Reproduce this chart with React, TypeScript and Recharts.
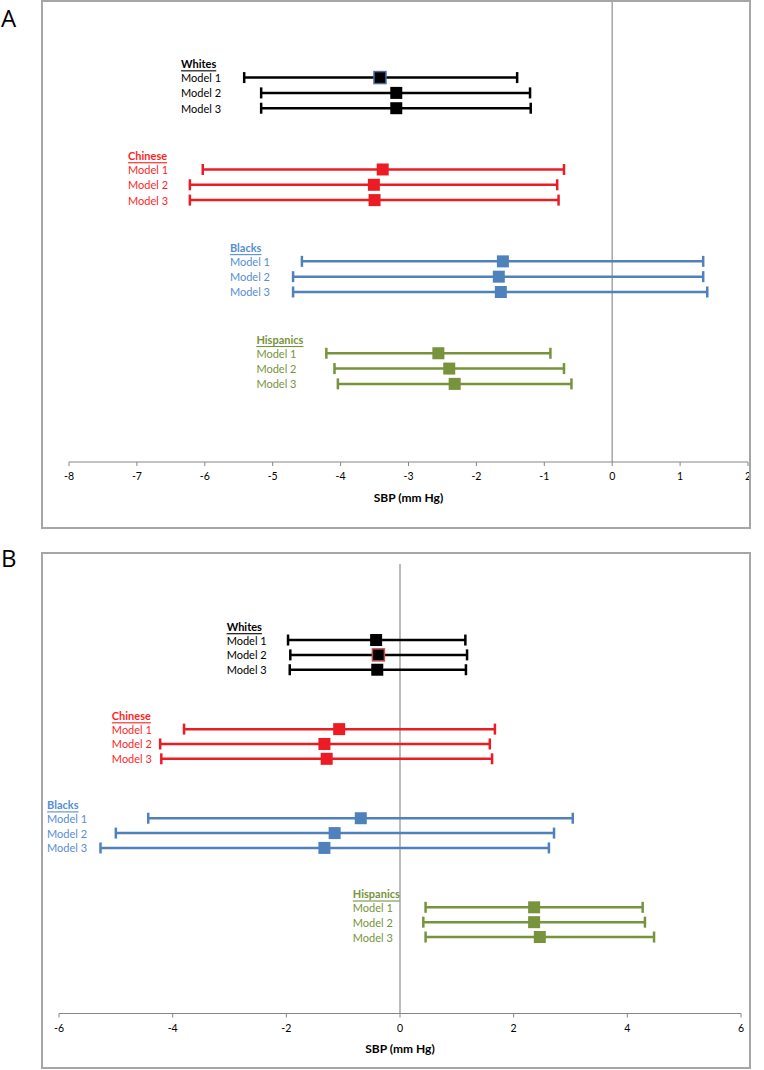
import { ScatterChart, Scatter, XAxis, YAxis, ErrorBar, ReferenceLine, ReferenceDot } from 'recharts';

// groups and models (rows are the vertical slots in the forest plot)
const groupNames = ['Whites', 'Chinese', 'Blacks', 'Hispanics'];
const modelNames = ['Model 1', 'Model 2', 'Model 3'];
const modelRows = [
  [0, 1, 2],
  [6, 7, 8],
  [12, 13, 14],
  [18, 19, 20],
];

// panel A: estimate and 95% CI, SBP (mm Hg)
const aEstimate = [
  [-3.42, -3.18, -3.18],
  [-3.38, -3.51, -3.5],
  [-1.61, -1.67, -1.64],
  [-2.56, -2.4, -2.32],
];
const aLower = [
  [-5.42, -5.17, -5.17],
  [-6.03, -6.22, -6.22],
  [-4.57, -4.7, -4.7],
  [-4.21, -4.09, -4.04],
];
const aUpper = [
  [-1.4, -1.21, -1.2],
  [-0.71, -0.81, -0.79],
  [1.34, 1.34, 1.4],
  [-0.91, -0.71, -0.6],
];
const aTicks = [-8, -7, -6, -5, -4, -3, -2, -1, 0, 1, 2];

// panel B
const bEstimate = [
  [-0.42, -0.38, -0.4],
  [-1.07, -1.33, -1.29],
  [-0.69, -1.15, -1.33],
  [2.36, 2.36, 2.46],
];
const bLower = [
  [-1.97, -1.93, -1.94],
  [-3.8, -4.22, -4.2],
  [-4.43, -5.0, -5.27],
  [0.45, 0.41, 0.45],
];
const bUpper = [
  [1.15, 1.18, 1.16],
  [1.67, 1.58, 1.62],
  [3.04, 2.71, 2.62],
  [4.27, 4.31, 4.47],
];
const bTicks = [-6, -4, -2, 0, 2, 4, 6];

const lineColors = ['#000000', '#ed1c24', '#4f81bd', '#77933c'];
const textColors = ['#000000', '#ff1f1f', '#558ed5', '#77933c'];
const FONT = 'Lato, "Open Sans", sans-serif';

type PanelCfg = {
  est: number[][];
  low: number[][];
  high: number[][];
  ticks: number[];
  xDomain: [number, number];
  yDomain: [number, number];
  labelX: number[];
  top: number;
  height: number;
  margin: { top: number; right: number; bottom: number; left: number };
  axisHeight: number;
  outline: Record<string, string>;
};

const panelA: PanelCfg = {
  est: aEstimate,
  low: aLower,
  high: aUpper,
  ticks: aTicks,
  xDomain: [-8, 2],
  yDomain: [-5, 25.1],
  labelX: [-6.35, -7.13, -5.63, -5.24],
  top: 0,
  height: 530,
  margin: { top: 1, right: 16, bottom: 0, left: 69 },
  axisHeight: 68,
  outline: { '0-0': '#4a6fa0' },
};

const panelB: PanelCfg = {
  est: bEstimate,
  low: bLower,
  high: bUpper,
  ticks: bTicks,
  xDomain: [-6, 6],
  yDomain: [-5.12, 25.15],
  labelX: [-3.05, -5.07, -6.21, -0.83],
  top: 540,
  height: 530,
  margin: { top: 24, right: 23, bottom: 0, left: 59 },
  axisHeight: 56.5,
  outline: { '0-1': '#c0504d' },
};

function Panel({ cfg }: { cfg: PanelCfg }) {
  const series = groupNames.map((_, gi) =>
    modelRows[gi].map((row, mi) => ({
      x: cfg.est[gi][mi],
      row,
      err: [cfg.est[gi][mi] - cfg.low[gi][mi], cfg.high[gi][mi] - cfg.est[gi][mi]],
      key: `${gi}-${mi}`,
    }))
  );

  return (
    <div style={{ position: 'absolute', left: 0, top: cfg.top }}>
      <ScatterChart width={764} height={cfg.height} margin={cfg.margin}>
        <XAxis
          type="number"
          dataKey="x"
          domain={cfg.xDomain}
          ticks={cfg.ticks}
          interval={0}
          height={cfg.axisHeight}
          stroke="#868686"
          tickSize={4}
          tickMargin={7}
          tick={{ fontSize: 10.5, fill: '#000', fontFamily: FONT }}
          label={{
            value: 'SBP (mm Hg)',
            position: 'insideTop',
            offset: 31,
            style: { fontSize: 12, fontWeight: 700, fill: '#000', fontFamily: FONT },
          }}
        />
        <YAxis type="number" dataKey="row" domain={cfg.yDomain} reversed hide allowDataOverflow />
        <ReferenceLine x={0} stroke="#a6a6a6" strokeWidth={1.5} />
        {series.map((pts, gi) => (
          <Scatter
            key={groupNames[gi]}
            data={pts}
            isAnimationActive={false}
            shape={(p: any) => (
              <rect
                x={p.cx - 6}
                y={p.cy - 6}
                width={12}
                height={12}
                fill={lineColors[gi]}
                stroke={cfg.outline[p.payload?.key] ?? 'none'}
                strokeWidth={1.5}
              />
            )}
          >
            <ErrorBar
              dataKey="err"
              direction="x"
              width={5.5}
              stroke={lineColors[gi]}
              strokeWidth={2.5}
              isAnimationActive={false}
            />
          </Scatter>
        ))}
        {groupNames.map((g, gi) => [
          <ReferenceDot
            key={`${g}-h`}
            x={cfg.labelX[gi]}
            y={modelRows[gi][0] - 0.9}
            r={0}
            ifOverflow="visible"
            shape={(p: any) => (
              <text
                x={p.cx}
                y={p.cy}
                dominantBaseline="central"
                fontSize={11}
                fontWeight={700}
                fill={textColors[gi]}
                fontFamily={FONT}
                textDecoration="underline"
              >
                {g}
              </text>
            )}
          />,
          ...modelNames.map((m, mi) => (
            <ReferenceDot
              key={`${g}-${m}`}
              x={cfg.labelX[gi]}
              y={modelRows[gi][mi]}
              r={0}
              ifOverflow="visible"
              shape={(p: any) => (
                <text
                  x={p.cx}
                  y={p.cy}
                  dominantBaseline="central"
                  fontSize={11}
                  fill={textColors[gi]}
                  fontFamily={FONT}
                >
                  {m}
                </text>
              )}
            />
          )),
        ])}
      </ScatterChart>
    </div>
  );
}

export default function App() {
  return (
    <div
      style={{
        position: 'absolute',
        left: 0,
        top: 0,
        width: 764,
        height: 1070,
        background: '#fff',
        fontFamily: FONT,
      }}
    >
      <Panel cfg={panelA} />
      <Panel cfg={panelB} />
      <div
        style={{
          position: 'absolute',
          left: 41,
          top: 0,
          width: 710,
          height: 529,
          border: '2px solid #a6a6a6',
          boxSizing: 'border-box',
          pointerEvents: 'none',
        }}
      />
      <div
        style={{
          position: 'absolute',
          left: 41,
          top: 552,
          width: 710,
          height: 517,
          border: '2px solid #a6a6a6',
          boxSizing: 'border-box',
          pointerEvents: 'none',
        }}
      />
      <div style={{ position: 'absolute', left: 1, top: 4, fontSize: 24, lineHeight: '28px', fontFamily: '"Open Sans", sans-serif' }}>
        A
      </div>
      <div style={{ position: 'absolute', left: 1, top: 544, fontSize: 24, lineHeight: '28px', fontFamily: '"Open Sans", sans-serif' }}>
        B
      </div>
    </div>
  );
}
